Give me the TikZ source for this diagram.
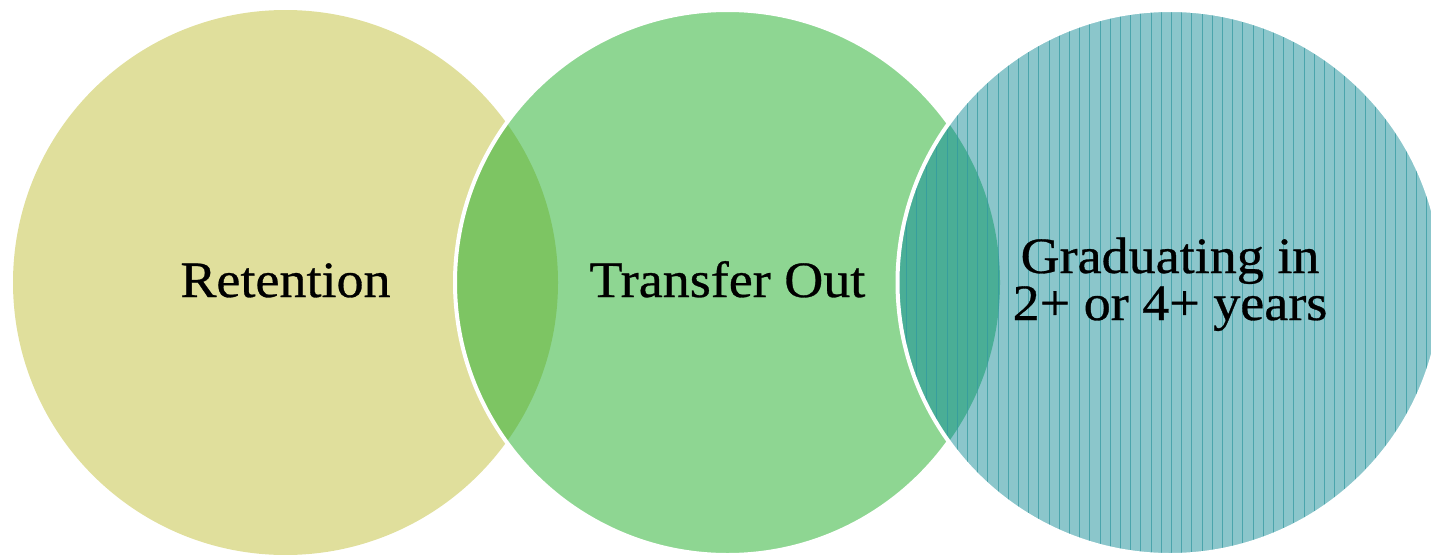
\documentclass[tikz,border=0pt]{standalone}
\usepackage{fontspec}
\setmainfont{Liberation Serif}[FakeStretch=1.06,FakeBold=0.6]
\definecolor{cyellow}{RGB}{224,223,156}
\definecolor{cgreen}{RGB}{142,214,146}
\definecolor{cblue}{RGB}{139,198,203}
\definecolor{cyg}{RGB}{125,197,99}
\definecolor{cgb}{RGB}{74,174,150}
\definecolor{cline}{RGB}{48,152,160}
\begin{document}
\begin{tikzpicture}[x=1pt,y=-1pt,
  lbl/.style={anchor=base,inner sep=0pt,font=\fontsize{51}{47}\selectfont,text=black},
  pline/.style={draw=cline,line width=0.7pt,draw opacity=0.7},
  ring/.style={draw=white,line width=4pt}]
\useasboundingbox (0,0) rectangle (1431,554);
\def\R{272.5}
\coordinate (c1) at (285.5,282.5);
\coordinate (c2) at (727.5,282.5);
\coordinate (c3) at (1170,282.5);
% circle 1
\fill[cyellow] (c1) circle (\R);
% circle 2
\fill[cgreen] (c2) circle (\R);
\begin{scope}
  \clip (c1) circle (\R);
  \fill[cyg] (c2) circle (\R);
\end{scope}
\draw[ring] (c2) circle (\R);
% circle 3
\fill[cblue] (c3) circle (\R);
\begin{scope}
  \clip (c2) circle (\R);
  \fill[cgb] (c3) circle (\R);
\end{scope}
\begin{scope}
  \clip (c3) circle (\R);
  \foreach \k in {-40,...,14} {
    \draw[pline] ({1304+10.2*\k},0) -- ({1304+10.2*\k},554);
  }
\end{scope}
\draw[ring] (c3) circle (\R);
% labels
\node[lbl] (t1) at (285.5,297) {Retention};
\node[lbl] (t2) at (727.5,297) {Transfer Out};
\node[lbl] (t3a) at (1170,273) {Graduating in};
\node[lbl] (t3b) at (1170,320) {2+ or 4+ years};
\end{tikzpicture}
\end{document}
